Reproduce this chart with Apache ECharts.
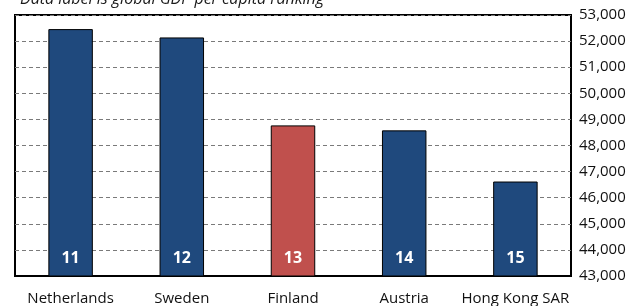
<!DOCTYPE html>
<html lang="en">

<head>
  <meta charset="UTF-8">
  <title>GDP per capita ranking</title>
  <script src="https://cdn.jsdelivr.net/npm/echarts@6.0.0/dist/echarts.min.js"></script>
</head>

<body style="margin: 0;padding: 0;background:#fff;">
  <div id="main" style="width: 634px;height: 306px;"></div>
  <script>
    var countries = ['Netherlands', 'Sweden', 'Finland', 'Austria', 'Hong Kong SAR'];
    var gdpPerCapita = [52460, 52140, 48770, 48580, 46620];
    var rankings = [11, 12, 13, 14, 15];
    var highlight = 'Finland';

    var chartDom = document.getElementById('main');
    var myChart = echarts.init(chartDom);
    var font = "'Open Sans', 'Liberation Sans', sans-serif";

    var option = {
      animation: false,
      title: {
        text: 'Data label is global GDP per capita ranking',
        left: 15,
        top: -14,
        textStyle: {
          fontFamily: font,
          fontSize: 16,
          fontStyle: 'italic',
          fontWeight: 'normal',
          color: '#1a1a1a'
        }
      },
      grid: {
        left: 15,
        right: 63,
        top: 15,
        bottom: 30,
        show: true,
        borderColor: '#000',
        borderWidth: 2,
        backgroundColor: '#fff'
      },
      xAxis: {
        type: 'category',
        data: countries,
        axisLine: { lineStyle: { color: '#000', width: 2 } },
        axisTick: { length: 6, lineStyle: { color: '#000', width: 1 } },
        axisLabel: {
          fontFamily: font,
          fontSize: 15,
          color: '#111',
          margin: 15,
          interval: 0
        }
      },
      yAxis: {
        type: 'value',
        position: 'right',
        min: 43000,
        max: 53000,
        interval: 1000,
        axisLine: { show: false },
        axisTick: { show: false },
        axisLabel: {
          fontFamily: font,
          fontSize: 15,
          color: '#111',
          margin: 8,
          formatter: function (v) { return v.toLocaleString('en-US'); }
        },
        splitLine: { lineStyle: { color: '#7a7a7a', type: [4, 3], width: 1 } }
      },
      series: [
        {
          type: 'bar',
          barWidth: '40%',
          data: gdpPerCapita.map(function (v, i) {
            return {
              value: v,
              itemStyle: { color: countries[i] === highlight ? '#C0504D' : '#1F497D' }
            };
          }),
          itemStyle: { borderColor: '#000', borderWidth: 1 },
          label: {
            show: true,
            position: 'insideBottom',
            distance: 10,
            color: '#fff',
            fontFamily: font,
            fontSize: 16,
            fontWeight: 'bold',
            formatter: function (p) { return rankings[p.dataIndex]; }
          }
        }
      ]
    };

    option && myChart.setOption(option);
  </script>
</body>

</html>
